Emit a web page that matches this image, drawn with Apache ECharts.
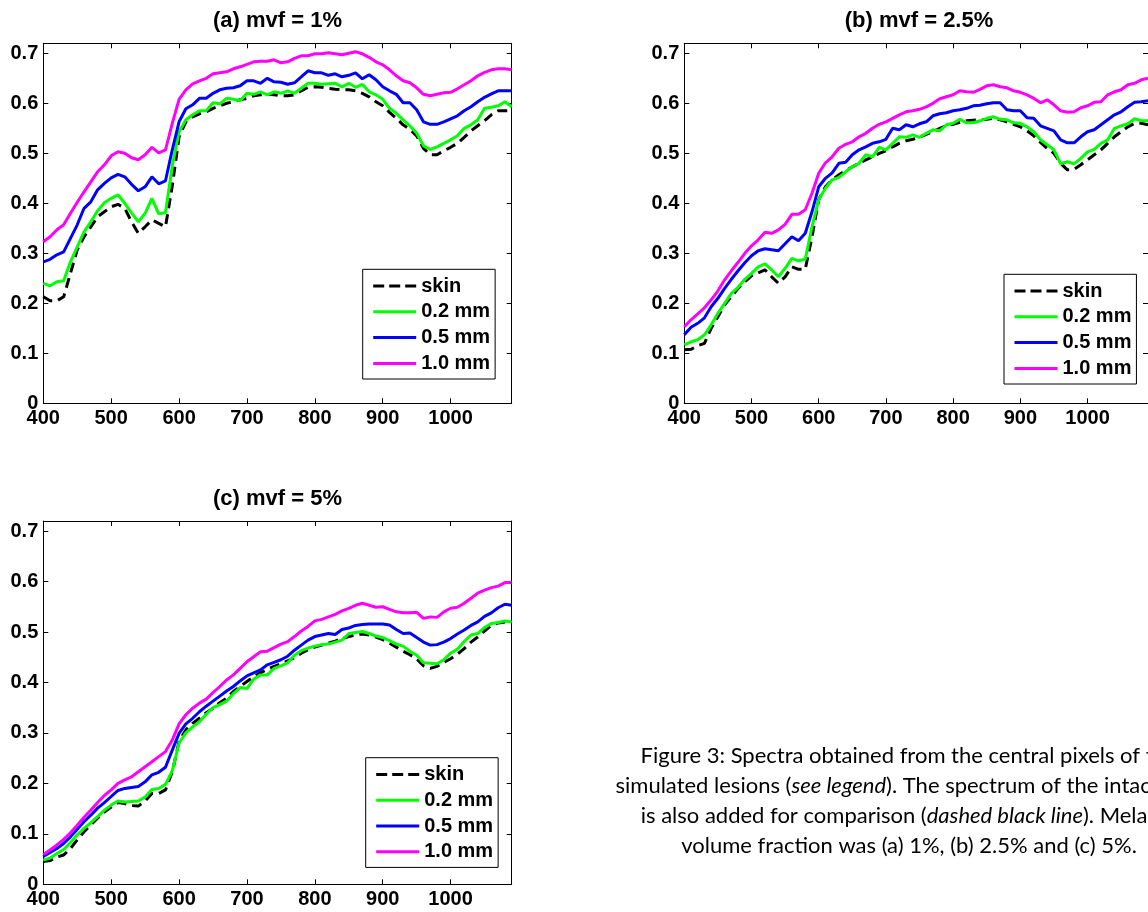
<!DOCTYPE html>
<html>
<head>
<meta charset="utf-8">
<script src="https://cdn.jsdelivr.net/npm/echarts@6/dist/echarts.min.js"></script>
<style>
  html, body { margin: 0; padding: 0; background: #ffffff; }
  #chart { width: 1148px; height: 912px; }
</style>
</head>
<body>
<div id="chart"></div>
<script>
// Wavelength grid (nm)
const wavelengths = [
  400, 410, 420, 430, 440, 450, 460, 470, 480, 490,
  500, 510, 520, 530, 540, 550, 560, 570, 580, 590,
  600, 610, 620, 630, 640, 650, 660, 670, 680, 690,
  700, 710, 720, 730, 740, 750, 760, 770, 780, 790,
  800, 810, 820, 830, 840, 850, 860, 870, 880, 890,
  900, 910, 920, 930, 940, 950, 960, 970, 980, 990,
  1000, 1010, 1020, 1030, 1040, 1050, 1060, 1070, 1080, 1090
];

const seriesNames = ['skin', '0.2 mm', '0.5 mm', '1.0 mm'];
const panelTitles = ['(a) mvf = 1%', '(b) mvf = 2.5%', '(c) mvf = 5%'];

// (a) melanin volume fraction 1%
const skinA = [
  .213, .205, .205, .213, .260, .307, .333, .353, .373, .383,
  .393, .398, .390, .363, .340, .353, .367, .360, .353, .435,
  .533, .563, .573, .579, .583, .590, .595, .600, .603, .607,
  .610, .615, .617, .618, .617, .615, .615, .617, .625, .632,
  .633, .632, .630, .628, .627, .627, .625, .620, .613, .603,
  .595, .582, .570, .557, .548, .535, .510, .497, .497, .505,
  .512, .520, .532, .545, .555, .565, .577, .585, .585, .585
];
const mm02A = [
  .240, .235, .243, .245, .283, .313, .343, .363, .385, .401,
  .410, .417, .400, .381, .363, .380, .410, .379, .381, .475,
  .543, .567, .577, .585, .585, .601, .599, .610, .608, .605,
  .620, .618, .623, .617, .623, .620, .625, .620, .630, .640,
  .640, .638, .639, .640, .633, .640, .632, .638, .623, .617,
  .608, .590, .580, .567, .555, .540, .515, .508, .513, .520,
  .527, .535, .550, .557, .567, .590, .592, .595, .603, .593
];
const mm05A = [
  .283, .288, .297, .303, .330, .357, .390, .403, .427, .440,
  .451, .458, .453, .438, .425, .433, .453, .439, .445, .507,
  .563, .589, .597, .610, .610, .620, .627, .630, .631, .635,
  .645, .645, .640, .650, .643, .642, .638, .641, .653, .665,
  .661, .661, .656, .659, .653, .656, .661, .649, .657, .647,
  .633, .625, .618, .601, .601, .587, .563, .558, .558, .563,
  .569, .575, .585, .593, .603, .612, .619, .625, .625, .625
];
const mm10A = [
  .323, .333, .347, .357, .380, .402, .423, .443, .463, .477,
  .495, .503, .500, .491, .487, .497, .512, .501, .507, .560,
  .608, .627, .639, .645, .650, .659, .661, .663, .669, .673,
  .678, .683, .684, .684, .687, .681, .683, .690, .695, .695,
  .699, .699, .701, .699, .697, .700, .703, .699, .692, .683,
  .677, .667, .655, .645, .641, .631, .618, .615, .618, .621,
  .622, .629, .637, .645, .655, .662, .667, .669, .669, .667
];

// (b) melanin volume fraction 2.5%
const skinB = [
  .107, .108, .115, .120, .150, .173, .197, .213, .230, .243,
  .255, .261, .267, .253, .240, .253, .273, .268, .268, .333,
  .407, .433, .447, .457, .465, .473, .480, .487, .493, .500,
  .505, .513, .520, .525, .528, .532, .538, .543, .550, .555,
  .558, .562, .565, .566, .567, .568, .570, .567, .563, .558,
  .553, .545, .535, .522, .510, .500, .480, .467, .468, .477,
  .487, .497, .507, .520, .533, .543, .553, .560, .560, .557
];
const mm02B = [
  .117, .123, .127, .137, .157, .180, .200, .220, .232, .248,
  .260, .273, .279, .267, .253, .270, .290, .285, .288, .353,
  .407, .430, .447, .452, .463, .473, .480, .497, .493, .512,
  .507, .520, .533, .532, .537, .532, .540, .547, .545, .557,
  .560, .568, .561, .561, .565, .570, .573, .568, .567, .561,
  .560, .553, .543, .527, .517, .507, .479, .483, .479, .490,
  .503, .508, .520, .527, .550, .555, .559, .569, .565, .565
];
const mm05B = [
  .137, .152, .160, .171, .193, .210, .230, .248, .265, .281,
  .295, .305, .309, .307, .305, .319, .333, .325, .340, .383,
  .433, .450, .461, .480, .482, .497, .507, .513, .520, .523,
  .528, .550, .547, .557, .553, .559, .563, .575, .579, .581,
  .585, .587, .590, .595, .596, .599, .601, .601, .587, .585,
  .585, .571, .570, .555, .550, .545, .527, .521, .521, .533,
  .543, .547, .557, .567, .577, .583, .593, .602, .603, .605
];
const mm10B = [
  .153, .167, .179, .191, .207, .225, .247, .265, .282, .300,
  .315, .327, .342, .340, .347, .358, .378, .378, .387, .420,
  .460, .481, .493, .510, .518, .523, .533, .540, .550, .558,
  .563, .570, .577, .583, .585, .588, .593, .600, .609, .613,
  .617, .625, .623, .622, .628, .635, .637, .633, .631, .625,
  .622, .617, .610, .601, .607, .597, .585, .582, .583, .591,
  .595, .602, .603, .617, .623, .627, .637, .640, .647, .650
];

// (c) melanin volume fraction 5%
const skinC = [
  .045, .047, .054, .058, .071, .088, .104, .118, .131, .143,
  .153, .162, .160, .156, .155, .165, .180, .180, .187, .223,
  .283, .306, .319, .329, .340, .349, .360, .369, .382, .392,
  .402, .411, .419, .426, .432, .437, .443, .449, .458, .465,
  .470, .474, .478, .482, .487, .491, .494, .496, .494, .490,
  .485, .478, .470, .462, .455, .447, .433, .428, .432, .440,
  .447, .456, .467, .480, .490, .502, .513, .518, .520, .520
];
const mm02C = [
  .048, .052, .061, .069, .083, .098, .111, .122, .134, .147,
  .157, .165, .163, .164, .165, .173, .188, .190, .198, .225,
  .280, .300, .312, .322, .337, .350, .356, .363, .378, .390,
  .388, .407, .415, .415, .428, .433, .439, .454, .463, .468,
  .472, .475, .476, .480, .484, .497, .499, .501, .497, .492,
  .489, .483, .476, .472, .462, .454, .439, .438, .437, .445,
  .458, .466, .481, .494, .497, .509, .517, .519, .522, .520
];
const mm05C = [
  .055, .063, .071, .081, .094, .109, .124, .137, .151, .162,
  .174, .186, .190, .192, .194, .203, .217, .222, .232, .266,
  .299, .318, .329, .342, .353, .363, .373, .383, .392, .403,
  .413, .419, .425, .435, .440, .445, .452, .464, .474, .484,
  .491, .494, .497, .495, .505, .508, .513, .515, .516, .516,
  .516, .514, .505, .497, .498, .489, .480, .474, .475, .480,
  .487, .496, .504, .513, .520, .531, .538, .548, .555, .553
];
const mm10C = [
  .059, .068, .078, .089, .102, .117, .133, .147, .162, .176,
  .187, .200, .207, .213, .223, .233, .243, .253, .263, .286,
  .318, .336, .349, .359, .367, .380, .392, .405, .415, .428,
  .441, .451, .461, .462, .469, .476, .481, .491, .502, .511,
  .522, .525, .530, .535, .542, .547, .553, .557, .553, .549,
  .550, .545, .540, .538, .538, .539, .527, .530, .529, .540,
  .547, .549, .557, .567, .577, .583, .588, .591, .598, .598
];

// Caption lines; {i|...} marks italic runs
const captionLines = [
  'Figure 3: Spectra obtained from the central pixels of the',
  'simulated lesions ({i|see legend}). The spectrum of the intact skin',
  'is also added for comparison ({i|dashed black line}). Melanin',
  'volume fraction was (a) 1%, (b) 2.5% and (c) 5%.'
];

const panelData = [
  [skinA, mm02A, mm05A, mm10A],
  [skinB, mm02B, mm05B, mm10B],
  [skinC, mm02C, mm05C, mm10C]
];

// ---- styling / layout ----
const lineColors = ['#000000', '#00ff00', '#0000ff', '#ff00ff'];
const FONT = '"Liberation Sans", Arial, Helvetica, sans-serif';
const layout = [
  { grid: { left: 43.3, top: 43.3, width: 468.4, height: 360 }, legend: { left: 362.7, top: 269.3 }, titleX: 277.5, titleY: 10 },
  { grid: { left: 684.3, top: 43.3, width: 469.2, height: 360 }, legend: { left: 1004, top: 274.3 }, titleX: 919, titleY: 10 },
  { grid: { left: 43.3, top: 521, width: 468.4, height: 363.3 }, legend: { left: 365.7, top: 757.7 }, titleX: 277.5, titleY: 488 }
];

const X_MIN = 400, X_MAX = 1090, Y_MIN = 0, Y_MAX = 0.72;

function labelStyle(show) {
  return {
    show: show,
    color: '#000',
    fontSize: 20,
    fontWeight: 'bold',
    fontFamily: FONT,
    margin: 5,
    showMaxLabel: false,
    formatter: function (v) { return String(+v.toFixed(2)); }
  };
}
const axisLineStyle = { show: true, onZero: false, lineStyle: { color: '#000', width: 1 } };
const tickStyle = { show: true, inside: true, length: 5, lineStyle: { color: '#000', width: 1 } };

const grids = [], xAxes = [], yAxes = [], series = [], legends = [], titles = [];

layout.forEach(function (L, p) {
  grids.push(Object.assign({ containLabel: false, show: true, backgroundColor: '#fff', borderWidth: 0 }, L.grid));
  ['bottom', 'top'].forEach(function (pos, k) {
    xAxes.push({
      gridIndex: p, type: 'value', position: pos,
      min: X_MIN, max: X_MAX, interval: 100,
      axisLine: axisLineStyle, axisTick: tickStyle,
      axisLabel: labelStyle(k === 0),
      splitLine: { show: false }
    });
  });
  ['left', 'right'].forEach(function (pos, k) {
    yAxes.push({
      gridIndex: p, type: 'value', position: pos,
      min: Y_MIN, max: Y_MAX, interval: 0.1,
      axisLine: axisLineStyle, axisTick: tickStyle,
      axisLabel: labelStyle(k === 0),
      splitLine: { show: false }
    });
  });
  panelData[p].forEach(function (vals, s) {
    series.push({
      type: 'line',
      name: seriesNames[s],
      xAxisIndex: 2 * p,
      yAxisIndex: 2 * p,
      data: wavelengths.map(function (w, i) { return [w, vals[i]]; }),
      symbol: 'none',
      showSymbol: false,
      smooth: false,
      lineStyle: { color: lineColors[s], width: 3, type: s === 0 ? [10, 6] : 'solid', cap: 'butt' },
      itemStyle: { color: lineColors[s] },
      emphasis: { disabled: true },
      z: 2 + s
    });
  });
  legends.push({
    orient: 'vertical',
    left: L.legend.left,
    top: L.legend.top,
    data: seriesNames.map(function (n, s) {
      return {
        name: n,
        itemStyle: { opacity: 0 },
        lineStyle: { color: lineColors[s], width: 3, type: s === 0 ? [11, 5] : 'solid', cap: 'butt' }
      };
    }),
    itemWidth: 43,
    itemHeight: 20,
    itemGap: 5.8,
    padding: [6.7, 5, 5.6, 9],
    borderColor: '#000',
    borderWidth: 1,
    backgroundColor: '#fff',
    selectedMode: false,
    textStyle: { color: '#000', fontSize: 20, fontWeight: 'bold', fontFamily: FONT }
  });
  titles.push({
    text: panelTitles[p],
    left: L.titleX,
    top: L.titleY,
    textAlign: 'center',
    padding: 0,
    textStyle: { color: '#000', fontSize: 22, fontWeight: 'bold', fontFamily: FONT }
  });
});

const CAPTION_FONT = 'Lato, "Open Sans", sans-serif';
const CAPTION_SIZE = 22;
const captionGraphics = captionLines.map(function (line, i) {
  return {
    type: 'text',
    x: 909,
    y: 756 + i * 30,
    style: {
      text: line,
      textAlign: 'center',
      textVerticalAlign: 'middle',
      fontSize: CAPTION_SIZE,
      fontFamily: CAPTION_FONT,
      fill: '#000',
      rich: {
        i: { fontStyle: 'italic', fontSize: CAPTION_SIZE, fontFamily: CAPTION_FONT, fill: '#000' }
      }
    }
  };
});

const chart = echarts.init(document.getElementById('chart'), null, { renderer: 'canvas' });
chart.setOption({
  animation: false,
  backgroundColor: '#ffffff',
  title: titles,
  grid: grids,
  xAxis: xAxes,
  yAxis: yAxes,
  legend: legends,
  series: series,
  graphic: captionGraphics
});
</script>
</body>
</html>
